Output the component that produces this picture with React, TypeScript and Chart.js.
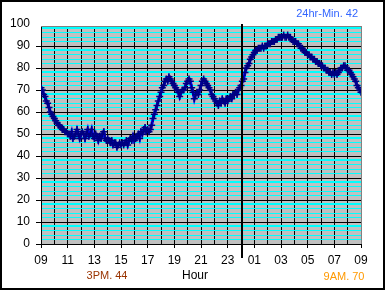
import React, { useEffect, useRef } from "react";
import { Chart, registerables } from "chart.js";

Chart.register(...registerables);

// ---- data ----
const START_HOUR = 9;
const STEP_HOURS = 0.1;
const humidity = [
  71,
  70, 68, 67, 65, 64, 62, 60, 59, 58, 57,
  56, 55, 54, 54, 53, 52, 52, 51, 51, 50,
  50, 49, 51, 48, 49, 50, 52, 50, 48, 50,
  51, 50, 48, 50, 52, 49, 50, 52, 49, 48,
  50, 49, 47, 49, 48, 50, 51, 48, 47, 48,
  47, 46, 47, 45, 46, 46, 44, 45, 46, 45,
  46, 45, 46, 47, 45, 47, 48, 47, 49, 47,
  48, 49, 50, 48, 51, 50, 52, 53, 51, 52,
  51, 52, 54, 57, 59, 61, 63, 65, 67, 69,
  71, 72, 74, 75, 74, 76, 75, 74, 73, 72,
  71, 70, 69, 67, 69, 70, 70, 71, 73, 74,
  75, 74, 71, 69, 66, 68, 69, 68, 70, 72,
  74, 75, 74, 73, 72, 71, 70, 68, 67, 66,
  65, 64, 63, 65, 64, 66, 65, 64, 66, 65,
  66, 67, 66, 68, 68, 69, 68, 70, 71, 72,
  74, 75, 78, 80, 81, 82, 84, 85, 86, 87,
  88, 88, 89, 89, 89, 90, 89, 90, 90, 91,
  91, 91, 92, 92, 92, 93, 93, 94, 94, 94,
  94, 95, 94, 94, 95, 94, 94, 93, 92, 92,
  92, 91, 91, 90, 89, 89, 88, 87, 87, 86,
  86, 85, 85, 84, 84, 83, 83, 82, 82, 81,
  81, 80, 80, 79, 79, 78, 78, 77, 78, 77,
  78, 77, 78, 79, 80, 80, 81, 81, 80, 79,
  79, 78, 77, 76, 75, 74, 72, 71, 70, 69,
];

const X_MIN = 9;
const X_MAX = 33;
const MIDNIGHT = 24;
const Y_MIN = 0;
const Y_MAX = 99.1;
const Y_TOP_LABEL = 100;

const xTitle = "Hour";
const minNote = "3PM. 44";
const lastNote = "9AM. 70";
const dayMinNote = "24hr-Min. 42";

const FONT = "'Liberation Sans', Arial, sans-serif";

function hourLabel(v: number): string {
  if ((v - X_MIN) % 2 !== 0) return "";
  const h = v % 24;
  return h < 10 ? "0" + h : String(h);
}

export default function App() {
  const ref = useRef<HTMLCanvasElement>(null);

  useEffect(() => {
    document.body.style.margin = "0";
    const canvas = ref.current!;
    const points = humidity.map((v, i) => ({
      x: Math.round((START_HOUR + i * STEP_HOURS) * 10) / 10,
      y: v,
    }));

    const framePlugin = {
      id: "frame",
      beforeDraw(chart: any) {
        const { ctx, chartArea: a } = chart;
        ctx.save();
        ctx.fillStyle = "#ffffff";
        ctx.fillRect(0, 0, chart.width, chart.height);
        ctx.fillStyle = "#c0c0c0";
        ctx.fillRect(a.left, a.top, a.right - a.left, a.bottom - a.top);
        ctx.restore();
      },
      afterDatasetsDraw(chart: any) {
        const { ctx, chartArea: a, scales } = chart;
        ctx.save();
        ctx.fillStyle = "#808080";
        ctx.fillRect(a.left, a.top, a.right - a.left + 1, 1);
        ctx.fillRect(Math.round(a.right), a.top, 1, a.bottom - a.top);
        const mx = Math.round(scales.x.getPixelForValue(MIDNIGHT));
        ctx.fillStyle = "#000000";
        ctx.fillRect(mx, a.top - 2, 2, a.bottom - a.top + 16);
        ctx.restore();
      },
      afterDraw(chart: any) {
        const { ctx, scales } = chart;
        ctx.save();
        ctx.textBaseline = "middle";
        ctx.font = `12px ${FONT}`;
        ctx.fillStyle = "#000000";
        ctx.textAlign = "right";
        ctx.fillText(String(Y_TOP_LABEL), 30, scales.y.getPixelForValue(Y_TOP_LABEL));
        ctx.textAlign = "center";
        ctx.fillText(xTitle, 195, 276);
        ctx.font = `11px ${FONT}`;
        ctx.fillStyle = "#993300";
        ctx.fillText(minNote, 107, 276);
        ctx.fillStyle = "#ff9900";
        ctx.fillText(lastNote, 344, 277);
        ctx.fillStyle = "#3366ff";
        ctx.textAlign = "right";
        ctx.fillText(dayMinNote, 358, 14);
        ctx.strokeStyle = "#000000";
        ctx.lineWidth = 2;
        ctx.strokeRect(1, 1, chart.width - 2, chart.height - 2);
        ctx.restore();
      },
    };

    const chart = new Chart(canvas, {
      type: "line",
      data: {
        datasets: [
          {
            data: points,
            borderColor: "#0000ff",
            borderWidth: 3,
            pointStyle: "cross",
            pointRadius: 3.5,
            pointBorderColor: "#000080",
            pointBackgroundColor: "#000080",
            pointBorderWidth: 1.5,
            tension: 0,
          },
        ],
      },
      options: {
        responsive: false,
        animation: false,
        devicePixelRatio: 1,
        layout: { padding: { top: 26, right: 24, left: 0, bottom: 0 } },
        plugins: {
          legend: { display: false },
          tooltip: { enabled: false },
          title: { display: false },
        },
        scales: {
          x: {
            type: "linear",
            min: X_MIN,
            max: X_MAX,
            afterFit: (s: any) => {
              s.height = 46;
            },
            ticks: {
              stepSize: 1,
              autoSkip: false,
              maxRotation: 0,
              minRotation: 0,
              padding: 5,
              color: "#000000",
              font: { family: FONT, size: 12 },
              callback: (v: any) => hourLabel(Number(v)),
            },
            grid: {
              color: (c: any) =>
                c.tick && c.tick.value === X_MAX ? "rgba(0,0,0,0)" : "#000000",
              lineWidth: 1,
              tickLength: 4,
              tickWidth: 1,
              tickColor: (c: any) =>
                c.tick && (c.tick.value - X_MIN) % 2 === 0 ? "#000000" : "rgba(0,0,0,0)",
            },
            border: { color: "#000000", width: 1 },
          },
          y: {
            min: Y_MIN,
            max: Y_MAX,
            afterFit: (s: any) => {
              s.width = 41;
            },
            ticks: {
              stepSize: 2,
              autoSkip: false,
              includeBounds: false,
              padding: 6,
              color: "#000000",
              font: { family: FONT, size: 12 },
              callback: (v: any) => (Number(v) % 10 === 0 ? String(v) : ""),
            },
            grid: {
              color: (c: any) => {
                const v = c.tick ? c.tick.value : 0;
                if (v % 10 === 0) return "#000000";
                if (v % 2 === 0) return "#00ffff";
                return "rgba(0,0,0,0)";
              },
              lineWidth: (c: any) => {
                const v = c.tick ? c.tick.value : 0;
                return v % 10 === 8 ? 2 : 1;
              },
              tickLength: 5,
              tickWidth: 1,
              tickColor: (c: any) =>
                c.tick && c.tick.value % 10 === 0 ? "#000000" : "rgba(0,0,0,0)",
            },
            border: { color: "#000000", width: 1 },
          },
        },
      },
      plugins: [framePlugin],
    });

    return () => {
      chart.destroy();
    };
  }, []);

  return (
    <canvas
      ref={ref}
      width={385}
      height={290}
      style={{ display: "block", width: 385, height: 290 }}
    />
  );
}
